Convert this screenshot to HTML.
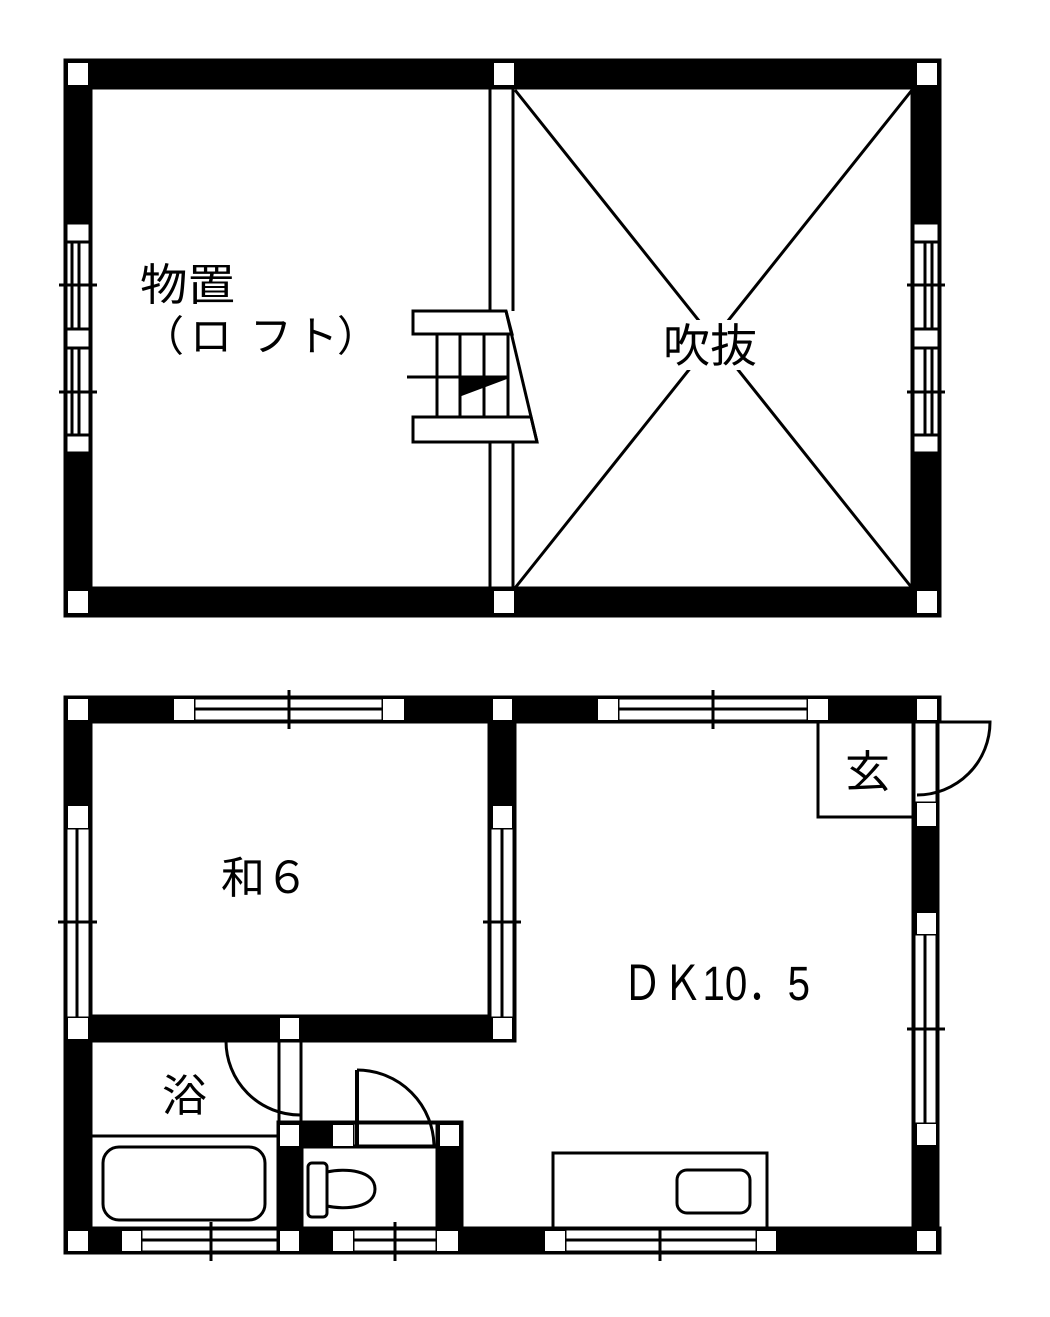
<!DOCTYPE html>
<html><head><meta charset="utf-8"><style>
html,body{margin:0;padding:0;background:#fff;}
svg{display:block;}
text{font-family:"Liberation Sans","Noto Sans CJK JP",sans-serif;fill:#000;}
</style></head><body>
<svg width="1050" height="1317" viewBox="0 0 1050 1317" xmlns="http://www.w3.org/2000/svg">
<g stroke="#000" stroke-width="3" fill="none">
<rect x="65" y="60" width="875" height="28" fill="#000"/>
<rect x="65" y="588" width="875" height="28" fill="#000"/>
<rect x="65" y="60" width="26" height="556" fill="#000"/>
<rect x="912" y="60" width="28" height="556" fill="#000"/>
<rect x="66" y="223" width="24" height="230" fill="#fff"/>
<line x1="65" y1="242" x2="91" y2="242"/><line x1="65" y1="329" x2="91" y2="329"/>
<line x1="65" y1="348" x2="91" y2="348"/><line x1="65" y1="435" x2="91" y2="435"/>
<line x1="72" y1="242" x2="72" y2="329"/><line x1="79" y1="242" x2="79" y2="329"/>
<line x1="72" y1="348" x2="72" y2="435"/><line x1="79" y1="348" x2="79" y2="435"/>
<line x1="59" y1="285" x2="97" y2="285"/><line x1="59" y1="392" x2="97" y2="392"/>
<rect x="913" y="223" width="26" height="230" fill="#fff"/>
<line x1="912" y1="242" x2="940" y2="242"/><line x1="912" y1="329" x2="940" y2="329"/>
<line x1="912" y1="348" x2="940" y2="348"/><line x1="912" y1="435" x2="940" y2="435"/>
<line x1="925" y1="242" x2="925" y2="329"/><line x1="932" y1="242" x2="932" y2="329"/>
<line x1="925" y1="348" x2="925" y2="435"/><line x1="932" y1="348" x2="932" y2="435"/>
<line x1="907" y1="285" x2="945" y2="285"/><line x1="907" y1="392" x2="945" y2="392"/>
<g fill="#fff" stroke="none">
<rect x="68" y="63" width="20" height="22"/><rect x="494" y="63" width="20" height="22"/><rect x="917" y="63" width="20" height="22"/>
<rect x="68" y="591" width="20" height="22"/><rect x="494" y="591" width="20" height="22"/><rect x="917" y="591" width="20" height="22"/>
</g>
<line x1="490" y1="88" x2="490" y2="311"/><line x1="513" y1="88" x2="513" y2="311"/>
<line x1="490" y1="442" x2="490" y2="588"/><line x1="513" y1="442" x2="513" y2="588"/>
<line x1="515" y1="90" x2="912" y2="588"/><line x1="912" y1="90" x2="515" y2="588"/>
<polygon points="413,311 506,311 512,334 413,334" fill="#fff"/>
<polygon points="413,417 531,417 537,442 413,442" fill="#fff"/>
<line x1="506" y1="311" x2="537" y2="442"/>
<line x1="437" y1="334" x2="437" y2="417"/><line x1="460" y1="334" x2="460" y2="417"/>
<line x1="484" y1="334" x2="484" y2="417"/><line x1="508" y1="334" x2="508" y2="417"/>
<line x1="407" y1="377" x2="508" y2="377"/>
<polygon points="460,377 508,377 460,395" fill="#000"/>
<rect x="660" y="320" width="100" height="50" fill="#fff" stroke="none"/>

<rect x="65" y="697" width="875" height="25" fill="#000"/>
<rect x="65" y="1228" width="875" height="25" fill="#000"/>
<rect x="65" y="697" width="26" height="556" fill="#000"/>
<rect x="913" y="697" width="25" height="556" fill="#000"/>
<rect x="489" y="697" width="26" height="344" fill="#000"/>
<rect x="65" y="1016" width="450" height="25" fill="#000"/>
<rect x="278" y="1122" width="24" height="131" fill="#000"/>
<rect x="278" y="1122" width="184" height="25" fill="#000"/>
<rect x="437" y="1122" width="25" height="131" fill="#000"/>
<rect x="279" y="1041" width="22" height="81" fill="#fff"/>
<rect x="353" y="1123" width="84" height="23" fill="#fff"/>
<rect x="914" y="722" width="23" height="81" fill="#fff"/>
<rect x="194" y="698" width="189" height="23" fill="#fff"/>
<line x1="194" y1="709" x2="383" y2="709"/><line x1="289" y1="690" x2="289" y2="729"/>
<rect x="618" y="698" width="190" height="23" fill="#fff"/>
<line x1="618" y1="709" x2="808" y2="709"/><line x1="713" y1="690" x2="713" y2="729"/>
<rect x="66" y="828" width="24" height="190" fill="#fff"/>
<line x1="77" y1="828" x2="77" y2="1018"/><line x1="58" y1="922" x2="97" y2="922"/>
<rect x="490" y="828" width="24" height="190" fill="#fff"/>
<line x1="502" y1="828" x2="502" y2="1018"/><line x1="483" y1="922" x2="521" y2="922"/>
<rect x="914" y="934" width="23" height="190" fill="#fff"/>
<line x1="925" y1="934" x2="925" y2="1124"/><line x1="907" y1="1029" x2="945" y2="1029"/>
<rect x="141" y="1229" width="137" height="23" fill="#fff"/>
<line x1="141" y1="1240" x2="278" y2="1240"/><line x1="211" y1="1222" x2="211" y2="1261"/>
<rect x="353" y="1229" width="84" height="23" fill="#fff"/>
<line x1="353" y1="1240" x2="437" y2="1240"/><line x1="395" y1="1222" x2="395" y2="1261"/>
<rect x="565" y="1229" width="192" height="23" fill="#fff"/>
<line x1="565" y1="1240" x2="757" y2="1240"/><line x1="660" y1="1222" x2="660" y2="1261"/>
<g fill="#fff" stroke="none">
<rect x="68" y="699" width="20" height="21"/><rect x="174" y="699" width="20" height="21"/><rect x="383" y="699" width="21" height="21"/>
<rect x="493" y="699" width="19" height="21"/><rect x="598" y="699" width="20" height="21"/><rect x="808" y="699" width="20" height="21"/>
<rect x="917" y="699" width="20" height="21"/>
<rect x="68" y="806" width="20" height="22"/><rect x="68" y="1018" width="20" height="21"/>
<rect x="493" y="806" width="19" height="22"/><rect x="493" y="1018" width="19" height="21"/>
<rect x="280" y="1018" width="19" height="21"/>
<rect x="917" y="803" width="19" height="23"/><rect x="917" y="913" width="19" height="21"/><rect x="917" y="1124" width="19" height="21"/>
<rect x="280" y="1125" width="19" height="21"/><rect x="333" y="1125" width="20" height="21"/><rect x="440" y="1125" width="19" height="21"/>
<rect x="68" y="1231" width="20" height="20"/><rect x="122" y="1231" width="19" height="20"/><rect x="280" y="1231" width="19" height="20"/>
<rect x="333" y="1231" width="20" height="20"/><rect x="437" y="1231" width="21" height="20"/>
<rect x="545" y="1231" width="20" height="20"/><rect x="757" y="1231" width="19" height="20"/><rect x="917" y="1231" width="19" height="20"/>
</g>
<polyline points="818,722 818,817 913,817"/>
<path d="M937,722 L990,722 A73,73 0 0 1 917,795"/>
<path d="M226,1041 A74,74 0 0 0 300,1115"/>
<line x1="357" y1="1070" x2="357" y2="1147" stroke-width="4"/>
<path d="M357,1070 A77,77 0 0 1 434,1147"/>
<line x1="91" y1="1136" x2="278" y2="1136"/>
<rect x="103" y="1147" width="162" height="73" rx="16" fill="#fff"/>
<rect x="308" y="1163" width="19" height="54" rx="4" fill="#fff"/>
<path d="M327,1172 C345,1168 375,1170 375,1189 C375,1208 345,1210 327,1206 Z" fill="#fff"/>
<rect x="553" y="1153" width="214" height="75" fill="#fff"/>
<rect x="677" y="1170" width="73" height="43" rx="10" fill="#fff"/>
</g>
<text x="140" y="300" font-size="44" textLength="95" lengthAdjust="spacingAndGlyphs">物置</text>
<g font-size="42">
<text x="142" y="351">（</text>
<text x="211" y="351" text-anchor="middle">ロ</text>
<text x="271" y="351" text-anchor="middle">フ</text>
<text x="317" y="351" text-anchor="middle">ト</text>
<text x="337" y="351">）</text>
</g>
<text x="663" y="362" font-size="46" textLength="94" lengthAdjust="spacingAndGlyphs">吹抜</text>
<text x="221" y="893" font-size="44" textLength="88" lengthAdjust="spacingAndGlyphs">和６</text>
<text x="162" y="1111" font-size="44" textLength="45" lengthAdjust="spacingAndGlyphs">浴</text>
<text x="845" y="787" font-size="44" textLength="45" lengthAdjust="spacingAndGlyphs">玄</text>
<text x="622" y="1000" font-size="48" textLength="188" lengthAdjust="spacingAndGlyphs">ＤＫ10．5</text>
</svg>
</body></html>
